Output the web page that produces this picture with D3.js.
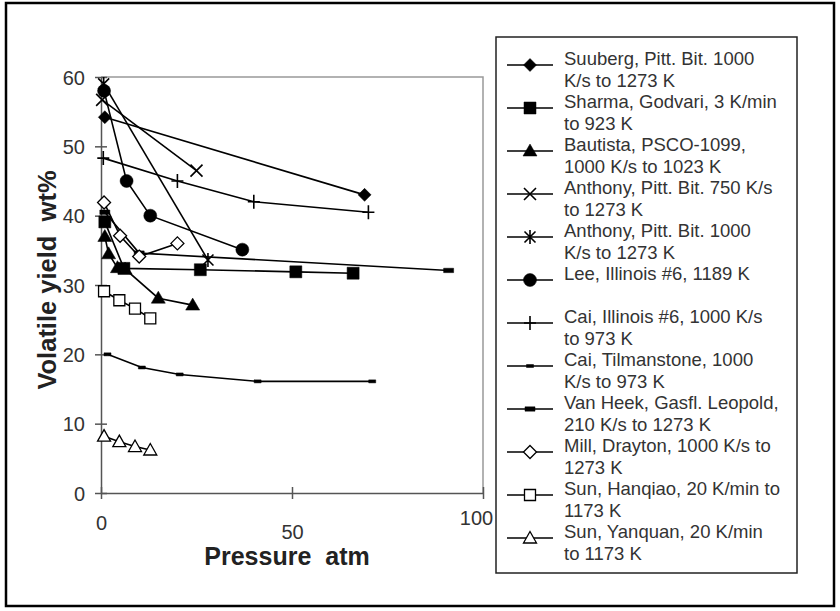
<!DOCTYPE html>
<html>
<head>
<meta charset="utf-8">
<script src="https://cdn.jsdelivr.net/npm/d3@7"></script>
<style>
  body { margin: 0; background: #fff; }
  svg { display: block; font-family: "Liberation Sans", Arial, sans-serif; }
</style>
</head>
<body>
<svg id="chart"></svg>
<script>
// pressure (atm) and volatile yield (wt%) per data set
const suubergP = [1, 69];
const suubergY = [54.2, 43];
const sharmaP = [1, 6, 26, 51, 66];
const sharmaY = [39.1, 32.4, 32.2, 31.9, 31.7];
const bautistaP = [1, 2, 4.3, 6.3, 15, 24];
const bautistaY = [37, 34.5, 32.5, 32.3, 28.1, 27.1];
const anthony750P = [0.3, 25];
const anthony750Y = [56.7, 46.5];
const anthony1000P = [0.7, 28];
const anthony1000Y = [59, 33.6];
const leeP = [0.8, 6.7, 12.9, 37];
const leeY = [58, 45, 40, 35.1];
const caiIllinoisP = [0.6, 20, 40, 70];
const caiIllinoisY = [48.3, 45, 42, 40.5];
const caiTilmanP = [1.7, 10.7, 20.6, 41, 71];
const caiTilmanY = [20, 18.1, 17.1, 16.1, 16.1];
const vanHeekP = [1, 10, 91];
const vanHeekY = [40.5, 34.6, 32.1];
const millP = [0.8, 5, 10, 20];
const millY = [41.9, 37.1, 34.1, 36];
const sunHanqiaoP = [0.8, 4.8, 8.9, 12.9];
const sunHanqiaoY = [29.1, 27.8, 26.6, 25.2];
const sunYanquanP = [0.8, 4.8, 8.9, 12.9];
const sunYanquanY = [8.2, 7.4, 6.7, 6.2];

const legendLabels = [
    ["Suuberg, Pitt. Bit. 1000", "K/s to 1273 K"],
    ["Sharma, Godvari, 3 K/min", "to 923 K"],
    ["Bautista, PSCO-1099,", "1000 K/s to 1023 K"],
    ["Anthony, Pitt. Bit. 750 K/s", "to 1273 K"],
    ["Anthony, Pitt. Bit. 1000", "K/s to 1273 K"],
    ["Lee, Illinois #6, 1189 K", ""],
    ["Cai, Illinois #6, 1000 K/s", "to 973 K"],
    ["Cai, Tilmanstone, 1000", "K/s to 973 K"],
    ["Van Heek, Gasfl. Leopold,", "210 K/s to 1273 K"],
    ["Mill, Drayton, 1000 K/s to", "1273 K"],
    ["Sun, Hanqiao, 20 K/min to", "1173 K"],
    ["Sun, Yanquan, 20 K/min", "to 1173 K"]
];
const markerTypes = ["diamond", "square", "triangle", "x", "asterisk", "circle",
    "plus", "dashSmall", "dashBig", "openDiamond", "openSquare", "openTriangle"];

const yTicks = [0, 10, 20, 30, 40, 50, 60];
const xTicks = [0, 50, 100];

const pressures = [suubergP, sharmaP, bautistaP, anthony750P, anthony1000P, leeP,
    caiIllinoisP, caiTilmanP, vanHeekP, millP, sunHanqiaoP, sunYanquanP];
const yields = [suubergY, sharmaY, bautistaY, anthony750Y, anthony1000Y, leeY,
    caiIllinoisY, caiTilmanY, vanHeekY, millY, sunHanqiaoY, sunYanquanY];

const series = legendLabels.map((label, i) => ({
    label: label,
    marker: markerTypes[i],
    points: pressures[i].map((p, j) => [p, yields[i][j]])
}));

const width = 840, height = 611;
const svg = d3.select("#chart").attr("width", width).attr("height", height);

svg.append("rect")
    .attr("x", 6).attr("y", 3)
    .attr("width", 828).attr("height", 603)
    .attr("fill", "#fff")
    .attr("stroke", "#000")
    .attr("stroke-width", 2.5);

const x = d3.scaleLinear().domain([0, 100]).range([101, 483]);
const y = d3.scaleLinear().domain([0, 60]).range([493, 77]);

// marker shapes centred on 0,0
function markerPath(type) {
    switch (type) {
        case "diamond":
        case "openDiamond":
            return "M0,-6.5L6.5,0L0,6.5L-6.5,0Z";
        case "square":
            return "M-6,-6H6V6H-6Z";
        case "openSquare":
            return "M-5.5,-5.5H5.5V5.5H-5.5Z";
        case "triangle":
            return "M0,-7L7,5L-7,5Z";
        case "openTriangle":
            return "M0,-6.5L6.5,5L-6.5,5Z";
        case "circle":
            return d3.symbol(d3.symbolCircle, 133)();
        case "x":
            return "M-6,-6L6,6M-6,6L6,-6";
        case "asterisk":
            return "M-5.5,-5.5L5.5,5.5M-5.5,5.5L5.5,-5.5M0,-7V7";
        case "plus":
            return "M-6,0H6M0,-7V7";
        case "dashSmall":
            return "M-3.5,-1.5H3.5V1.5H-3.5Z";
        case "dashBig":
            return "M-5,-2.2H5V2.2H-5Z";
    }
}

function styleMarker(sel, type) {
    const open = type.startsWith("open");
    const stroked = ["x", "asterisk", "plus"].includes(type);
    sel.attr("d", markerPath(type))
        .attr("fill", open ? "#fff" : (stroked ? "none" : "#000"))
        .attr("stroke", "#000")
        .attr("stroke-width", stroked ? 1.6 : (open ? 1.3 : 0.5));
}

// plot frame (top and right)
svg.append("path")
    .attr("d", `M${x(0)},${y(60)}H${x(100)}V${y(0)}`)
    .attr("fill", "none")
    .attr("stroke", "#999")
    .attr("stroke-width", 1.5);

// axes
const xAxis = svg.append("g")
    .attr("transform", `translate(0,${y(0)})`)
    .call(d3.axisBottom(x).tickValues(xTicks).tickSizeOuter(0).tickFormat(d3.format("d")));

const xNudge = { 0: [0, 0], 50: [0, 9], 100: [-7, -5] };
xAxis.selectAll(".tick line").attr("y1", -6).attr("y2", 6);
xAxis.selectAll(".tick text")
    .attr("dy", null)
    .attr("x", d => xNudge[d][0])
    .attr("y", d => 37 + xNudge[d][1]);

const yAxis = svg.append("g")
    .attr("transform", `translate(${x(0)},0)`)
    .call(d3.axisLeft(y).tickValues(yTicks).tickSizeOuter(0));

yAxis.selectAll(".tick line").attr("x1", -6).attr("x2", 6);
yAxis.selectAll(".tick text").attr("x", -16).attr("dy", "0.36em");

svg.selectAll(".domain, .tick line").attr("stroke", "#555").attr("stroke-width", 1.5);
svg.selectAll(".tick text")
    .attr("fill", "#333")
    .style("font-size", "20px")
    .style("font-family", "'Liberation Sans', Arial, sans-serif");

// axis titles
svg.append("text")
    .attr("x", 287).attr("y", 565)
    .attr("text-anchor", "middle")
    .attr("fill", "#222")
    .style("font-size", "25px")
    .style("font-weight", "bold")
    .attr("xml:space", "preserve")
    .text("Pressure  atm");

svg.append("text")
    .attr("transform", "translate(56,280) rotate(-90)")
    .attr("text-anchor", "middle")
    .attr("fill", "#222")
    .style("font-size", "25.5px")
    .style("font-weight", "bold")
    .attr("xml:space", "preserve")
    .text("Volatile yield  wt%");

// series
const line = d3.line().x(d => x(d[0])).y(d => y(d[1]));

const groups = svg.append("g").selectAll("g")
    .data(series)
    .join("g");

groups.append("path")
    .attr("d", d => line(d.points))
    .attr("fill", "none")
    .attr("stroke", "#000")
    .attr("stroke-width", 1.6);

groups.each(function (s) {
    d3.select(this).selectAll(".marker")
        .data(s.points)
        .join("path")
        .attr("class", "marker")
        .attr("transform", d => `translate(${x(d[0])},${y(d[1])})`)
        .call(styleMarker, s.marker);
});

// legend
const legend = svg.append("g");
legend.append("rect")
    .attr("x", 496).attr("y", 37)
    .attr("width", 301).attr("height", 536)
    .attr("fill", "#fff")
    .attr("stroke", "#222")
    .attr("stroke-width", 1.5);

const entries = legend.selectAll(".entry")
    .data(series)
    .join("g")
    .attr("class", "entry")
    .attr("transform", (d, i) => `translate(0,${65 + 43 * i})`);

entries.append("line")
    .attr("x1", 507).attr("x2", 553)
    .attr("stroke", "#000")
    .attr("stroke-width", 1.6);

entries.append("path")
    .attr("transform", "translate(530,0)")
    .each(function (d) { d3.select(this).call(styleMarker, d.marker); });

entries.each(function (d) {
    const t = d3.select(this).append("text")
        .attr("x", 564)
        .attr("fill", "#333")
        .style("font-size", "18.5px");
    d.label.forEach((ln, k) => {
        t.append("tspan").attr("x", 564).attr("y", k * 21.6).text(ln);
    });
});
</script>
</body>
</html>
